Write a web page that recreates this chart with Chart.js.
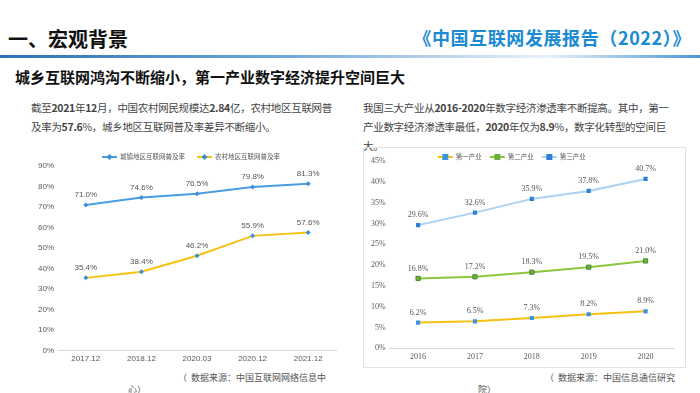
<!DOCTYPE html>
<html>
<head>
<meta charset="utf-8">
<script src="https://cdn.jsdelivr.net/npm/chart.js@4"></script>
<style>
  html, body { margin: 0; padding: 0; background: #fff; }
  body { width: 700px; height: 393px; position: relative; overflow: hidden;
         font-family: "Noto Sans CJK SC", "Noto Sans", sans-serif; }
  .abs { position: absolute; white-space: nowrap; }
  #h1 { left: 8px; top: 24px; font-size: 20px; font-weight: bold; color: #111; }
  #h2 { right: 9px; top: 24px; font-size: 18px; font-weight: bold; color: #1a8ad2; letter-spacing: 0.6px; }
  #rule { left: 0; top: 55px; width: 700px; height: 3px;
          background: linear-gradient(to right, #2a72b8 0%, #6ea6d8 40%, #e9f2fa 78%, #4d97d6 100%); }
  #sub { left: 15px; top: 66px; font-size: 15px; font-weight: bold; color: #111; }
  .para { font-size: 10.5px; color: #444; line-height: 19px; letter-spacing: -0.3px; }
  #p1 { left: 31px; top: 98px; }
  #p2 { left: 363px; top: 98px; }
  .note { font-size: 9px; color: #555; }
  #wrap1 { left: 30px; top: 152px; width: 310px; height: 216px; }
  #box2 { left: 363px; top: 147px; width: 323px; height: 221px; border: 1px solid #e2e2e2; box-sizing: border-box; }
  #wrap2 { left: 366px; top: 151px; width: 313px; height: 215px; }
</style>
</head>
<body>
<div class="abs" id="h1">一、宏观背景</div>
<div class="abs" id="h2">《中国互联网发展报告（2022）》</div>
<div class="abs" id="rule"></div>
<div class="abs" id="sub">城乡互联网鸿沟不断缩小，第一产业数字经济提升空间巨大</div>
<div class="abs para" id="p1">截至<b>2021</b>年<b>12</b>月，中国农村网民规模达<b>2.84</b>亿，农村地区互联网普<br>及率为<b>57.6</b>%，城乡地区互联网普及率差异不断缩小。</div>
<div class="abs para" id="p2">我国三大产业从<b>2016-2020</b>年数字经济渗透率不断提高。其中，第一<br>产业数字经济渗透率最低，<b>2020</b>年仅为<b>8.9</b>%，数字化转型的空间巨<br>大。</div>
<div class="abs" id="box2"></div>
<div class="abs" id="wrap1"><canvas id="c1"></canvas></div>
<div class="abs" id="wrap2"><canvas id="c2"></canvas></div>
<div class="abs note" style="left:178px;top:371px;">（&nbsp;&nbsp;数据来源：中国互联网网络信息中</div>
<div class="abs note" style="left:128px;top:383px;">心）</div>
<div class="abs note" style="left:545px;top:371px;">（&nbsp;&nbsp;数据来源：中国信息通信研究</div>
<div class="abs note" style="left:478px;top:383px;">院）</div>
<script>
const periods = ['2017.12', '2018.12', '2020.03', '2020.12', '2021.12'];
const urbanRate = [71.0, 74.6, 76.5, 79.8, 81.3];
const ruralRate = [35.4, 38.4, 46.2, 55.9, 57.6];

const years = ['2016', '2017', '2018', '2019', '2020'];
const primary = [6.2, 6.5, 7.3, 8.2, 8.9];
const secondary = [16.8, 17.2, 18.3, 19.5, 21.0];
const tertiary = [29.6, 32.6, 35.9, 37.8, 40.7];

// value labels above each point
const valueLabels = {
  id: 'valueLabels',
  afterDatasetsDraw(chart, args, opts) {
    const ctx = chart.ctx;
    ctx.save();
    ctx.font = opts.font;
    ctx.fillStyle = '#555';
    ctx.textAlign = 'center';
    ctx.textBaseline = 'middle';
    chart.data.datasets.forEach((ds, i) => {
      chart.getDatasetMeta(i).data.forEach((pt, j) => {
        ctx.fillText(ds.data[j].toFixed(1) + '%', pt.x, pt.y - 10);
      });
    });
    ctx.restore();
  }
};

// legend as line + marker, sitting above the plot
const lineLegend = {
  id: 'lineLegend',
  afterDraw(chart, args, opts) {
    const ctx = chart.ctx;
    ctx.save();
    ctx.font = opts.font;
    const items = chart.data.datasets.map(ds => ({ ds, w: 18 + ctx.measureText(ds.label).width }));
    const total = items.reduce((s, it) => s + it.w, 0) + opts.gap * (items.length - 1);
    let x = (chart.chartArea.left + chart.chartArea.right) / 2 - total / 2 + opts.offsetX;
    const y = opts.y;
    items.forEach(({ ds, w }) => {
      ctx.strokeStyle = ds.borderColor;
      ctx.lineWidth = 2;
      ctx.beginPath(); ctx.moveTo(x, y); ctx.lineTo(x + 15, y); ctx.stroke();
      ctx.fillStyle = ds.pointBackgroundColor;
      ctx.beginPath();
      if (ds.pointStyle === 'rectRot') {
        ctx.moveTo(x + 7.5, y - 3); ctx.lineTo(x + 10.5, y); ctx.lineTo(x + 7.5, y + 3); ctx.lineTo(x + 4.5, y);
      } else {
        ctx.rect(x + 4.5, y - 3, 6, 6);
      }
      ctx.closePath(); ctx.fill();
      ctx.fillStyle = '#595959';
      ctx.textAlign = 'left';
      ctx.textBaseline = 'middle';
      ctx.fillText(ds.label, x + 18, y);
      x += w + opts.gap;
    });
    ctx.restore();
  }
};

function axes(max, step, font) {
  return {
    x: {
      offset: true,
      grid: { display: false, drawTicks: false },
      border: { color: '#d9d9d9' },
      ticks: { padding: 4, color: '#595959', font: { family: font, size: 8 } }
    },
    y: {
      min: 0, max: max,
      grid: { display: false, drawTicks: false },
      border: { display: false },
      ticks: { stepSize: step, padding: 4, color: '#595959', font: { family: font, size: 8 },
               callback: v => v + '%' }
    }
  };
}

new Chart(document.getElementById('c1'), {
  type: 'line',
  data: {
    labels: periods,
    datasets: [{
      label: '城镇地区互联网普及率',
      data: urbanRate,
      borderColor: '#4a9de0',
      borderWidth: 2,
      pointStyle: 'rectRot',
      pointRadius: 2.5,
      pointBackgroundColor: '#3d8fdc',
      pointBorderWidth: 0
    }, {
      label: '农村地区互联网普及率',
      data: ruralRate,
      borderColor: '#f5c211',
      borderWidth: 2,
      pointStyle: 'rectRot',
      pointRadius: 2.5,
      pointBackgroundColor: '#3d8fdc',
      pointBorderWidth: 0
    }]
  },
  options: {
    responsive: true,
    maintainAspectRatio: false,
    animation: false,
    layout: { padding: { left: 4, right: 3, top: 14 } },
    plugins: {
      legend: { display: false },
      tooltip: { enabled: false },
      valueLabels: { font: '8px "Liberation Sans"' },
      lineLegend: { font: '6.5px "Noto Sans CJK SC"', y: 5, gap: 12, offsetX: -6 }
    },
    scales: axes(90, 10, '"Liberation Sans"')
  },
  plugins: [valueLabels, lineLegend]
});

new Chart(document.getElementById('c2'), {
  type: 'line',
  data: {
    labels: years,
    datasets: [{
      label: '第一产业',
      data: primary,
      borderColor: '#f5c211',
      borderWidth: 2,
      pointStyle: 'rect',
      pointRadius: 3,
      pointBackgroundColor: '#3d95e0',
      pointBorderWidth: 0
    }, {
      label: '第二产业',
      data: secondary,
      borderColor: '#8cc63f',
      borderWidth: 2,
      pointStyle: 'rect',
      pointRadius: 3,
      pointBackgroundColor: '#6fae3a',
      pointBorderColor: '#4f8a3a',
      pointBorderWidth: 1
    }, {
      label: '第三产业',
      data: tertiary,
      borderColor: '#a9d1f2',
      borderWidth: 2,
      pointStyle: 'rect',
      pointRadius: 3,
      pointBackgroundColor: '#2f80d8',
      pointBorderWidth: 0
    }]
  },
  options: {
    responsive: true,
    maintainAspectRatio: false,
    animation: false,
    layout: { padding: { left: 1, right: 4, top: 10 } },
    plugins: {
      legend: { display: false },
      tooltip: { enabled: false },
      valueLabels: { font: '8px "Liberation Serif"' },
      lineLegend: { font: '6.5px "Noto Sans CJK SC"', y: 6, gap: 8, offsetX: -20 }
    },
    scales: axes(45, 5, '"Liberation Serif"')
  },
  plugins: [valueLabels, lineLegend]
});
</script>
</body>
</html>
